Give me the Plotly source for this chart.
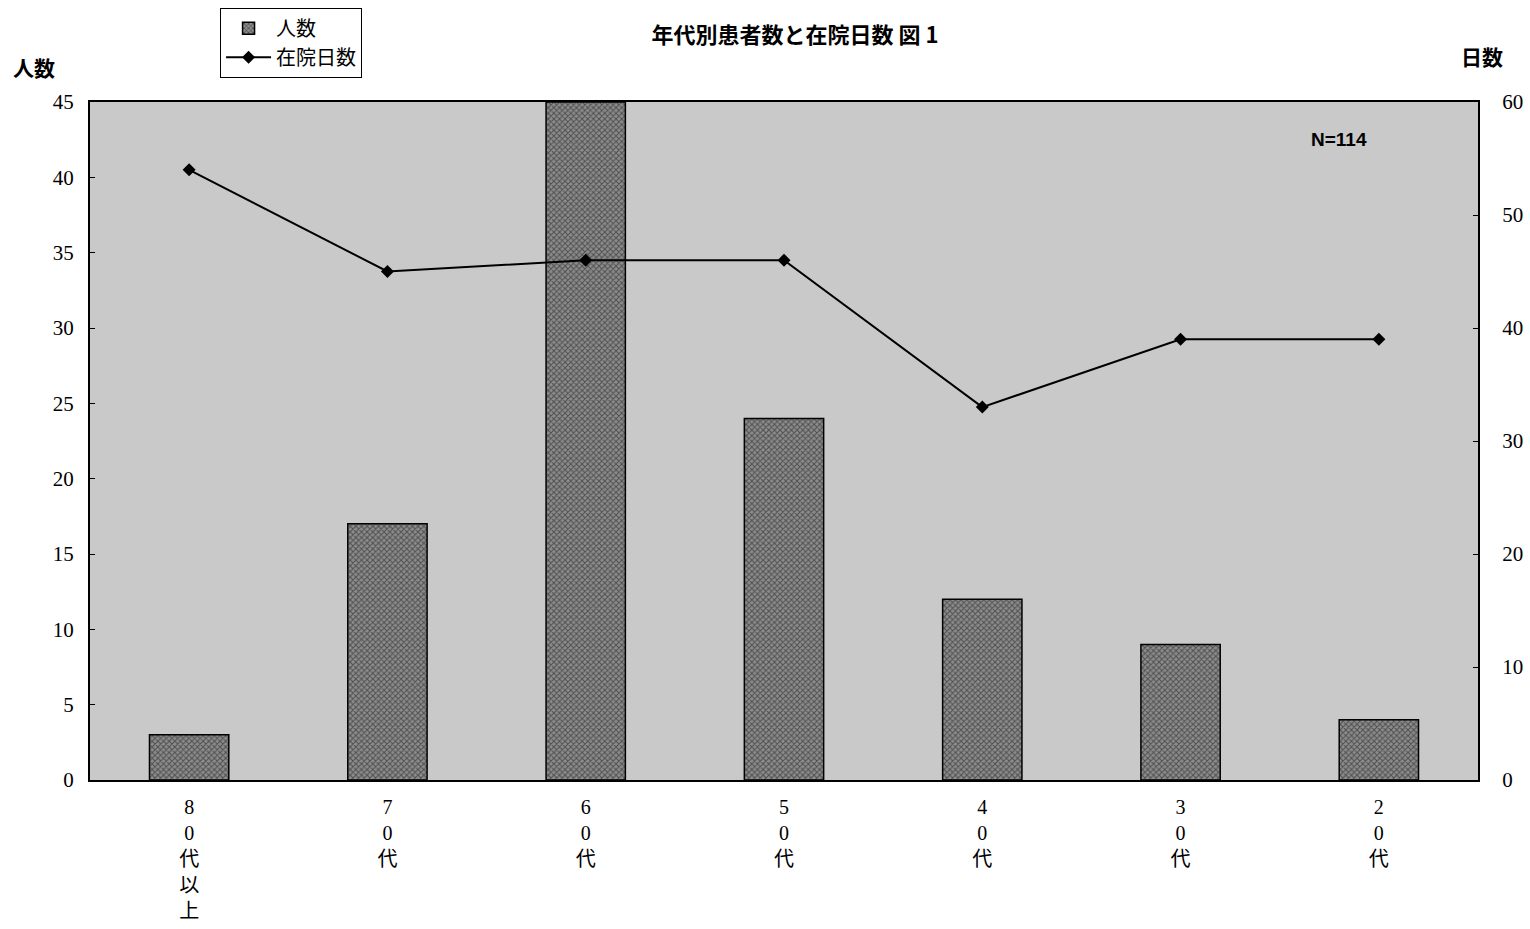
import plotly.graph_objects as go

# Age groups (shown stacked vertically, one character per line)
categories = ["80代以上", "70代", "60代", "50代", "40代", "30代", "20代"]
patients = [3, 17, 45, 24, 12, 9, 4]            # 人数 (left axis)
stay_days = [54, 45, 46, 46, 33, 39, 39]         # 在院日数 (right axis)
left_ticks = list(range(0, 46, 5))
right_ticks = list(range(0, 61, 10))

tick_text = ["<br>".join(list(c)) for c in categories]

serif = "Liberation Serif, Noto Sans CJK JP, serif"
gothic = "Noto Sans CJK JP, sans-serif"

fig = go.Figure()

fig.add_trace(go.Bar(
    x=categories,
    y=patients,
    name="人数",
    marker=dict(
        color="#6a6a6a",
        line=dict(color="black", width=1.5),
        pattern=dict(shape="x", fgcolor="#111111", bgcolor="#8c8c8c", size=4, solidity=0.45),
    ),
    width=0.4,
    yaxis="y",
))

fig.add_trace(go.Scatter(
    x=categories,
    y=stay_days,
    name="在院日数",
    mode="lines+markers",
    line=dict(color="black", width=2),
    marker=dict(symbol="diamond", size=10, color="black"),
    yaxis="y2",
))

fig.update_layout(
    width=1530,
    height=929,
    margin=dict(l=90, r=52, t=102, b=149, autoexpand=False),
    paper_bgcolor="white",
    plot_bgcolor="#c9c9c9",
    showlegend=True,
    legend=dict(
        x=0.0937, y=1.139, xanchor="left", yanchor="top",
        bgcolor="white", bordercolor="black", borderwidth=1,
        font=dict(family=serif, size=20, color="black"),
        tracegroupgap=0, itemwidth=45,
    ),
    title=dict(
        text="<b>年代別患者数と在院日数 図 1</b>",
        x=0.508, xref="paper", xanchor="center",
        y=0.962, yref="container", yanchor="middle",
        font=dict(family=gothic, size=22, color="black"),
    ),
    xaxis=dict(
        type="category",
        tickmode="array",
        tickvals=categories,
        ticktext=tick_text,
        tickfont=dict(family=serif, size=20, color="black"),
        showline=True, linecolor="black", linewidth=2, mirror=True,
        showgrid=False, ticks="", automargin=False,
        ticklabelstandoff=8,
    ),
    yaxis=dict(
        range=[0, 45],
        tickvals=left_ticks,
        tickfont=dict(family=serif, size=21, color="black"),
        showline=True, linecolor="black", linewidth=2,
        showgrid=False, zeroline=False,
        ticks="inside", ticklen=5, tickcolor="black",
        ticklabelstandoff=10, automargin=False,
    ),
    yaxis2=dict(
        range=[0, 60],
        tickvals=right_ticks,
        overlaying="y",
        side="right",
        tickfont=dict(family=serif, size=21, color="black"),
        showline=True, linecolor="black", linewidth=2,
        showgrid=False, zeroline=False,
        ticks="inside", ticklen=5, tickcolor="black",
        ticklabelstandoff=18, automargin=False,
    ),
    annotations=[
        dict(text="<b>人数</b>", x=-0.0403, y=1.0516, xref="paper", yref="paper",
             xanchor="center", yanchor="middle", showarrow=False,
             font=dict(family=gothic, size=21, color="black")),
        dict(text="<b>日数</b>", x=1.0029, y=1.068, xref="paper", yref="paper",
             xanchor="center", yanchor="middle", showarrow=False,
             font=dict(family=gothic, size=21, color="black")),
        dict(text="<b>N=114</b>", x=0.9, y=0.945, xref="paper", yref="paper",
             xanchor="center", yanchor="middle", showarrow=False,
             font=dict(family="Liberation Sans Narrow, Liberation Sans, sans-serif", size=19, color="black")),
    ],
)

fig.write_html("out.html")
